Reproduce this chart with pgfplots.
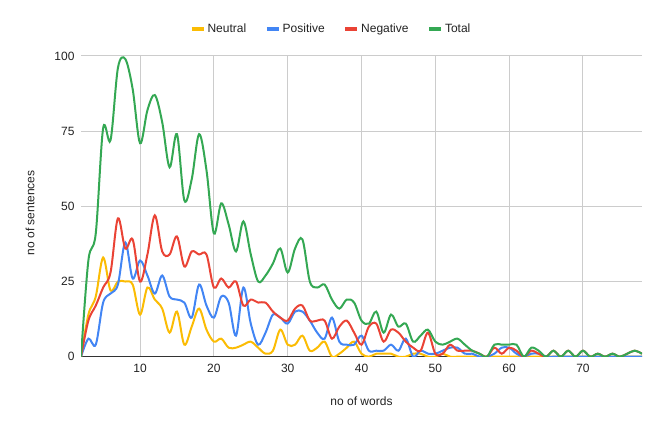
\documentclass[border=0pt]{standalone}
\usepackage{pgfplots}
\pgfplotsset{compat=1.18}
\usepackage{pgfplotstable}
\usepackage{fontspec}
\setmainfont{Liberation Sans}
\definecolor{cN}{HTML}{FBBC04}
\definecolor{cP}{HTML}{4285F4}
\definecolor{cG}{HTML}{EA4335}
\definecolor{cT}{HTML}{34A853}
\definecolor{gridc}{HTML}{CCCCCC}
\definecolor{txt}{HTML}{222222}
\definecolor{axc}{HTML}{333333}

\pgfplotstableread{
x N P G T
2 0 0 0 0
3 14 6 12 32
4 20 4 17 41
5 33 18 23 76
6 22 21 28 72
7 25 24 46 96
8 25 38 36 99
9 24 26 39 89
10 14 32 25 71
11 23 27 34 82
12 19 21 47 87
13 16 27 35 78
14 8 20 34 63
15 15 19 40 74
16 4 18 30 52
17 10 13 35 59
18 16 24 34 74
19 9 17 34 62
20 5 13 23 41
21 6 20 26 51
22 3 18 23 44
23 3 7 25 35
24 4 23 17 45
25 5 11 19 34
26 3 4 18 25
27 1 8 18 27
28 2 14 15 31
29 9 13 13 36
30 4 11 12 28
31 4 15 16 36
32 7 15 17 39
33 2 12 12 25
34 3 8 12 23
35 5 6 12 24
36 0 13 6 19
37 1 5 10 16
38 3 4 12 19
39 5 4 8 18
40 1 7 4 12
41 0 2 10 11
42 1 2 11 15
43 1 2 5 8
44 1 4 9 14
45 0 2 8 10
46 0 6 5 11
47 1 0 3 5
48 1 2 2 7
49 0 1 8 9
50 0 1 1 5
51 1 2 1 4
52 0 3 4 5
53 0 3 2 6
54 0 1 2 4
55 0 1 2 2
56 0 0 1 1
57 0 0 0 0
58 0 1 3 4
59 0 3 1 4
60 0 3 3 4
61 0 1 2 4
62 0 0 0 0
63 0 1 2 3
64 0 1 1 2
65 0 0 0 0
66 0 0 2 2
67 0 0 0 0
68 0 0 2 2
69 0 0 0 0
70 0 0 2 2
71 0 0 0 0
72 0 0 1 1
73 0 0 0 0
74 0 0 1 1
75 0 0 0 0
76 0 0 1 1
77 0 0 2 2
78 0 0 1 1
}\data

\begin{document}
\begin{tikzpicture}
\path[use as bounding box] (-81bp,-74.3bp) rectangle (582bp,356.7bp);
\begin{axis}[
  at={(0,0)}, anchor=south west,
  scale only axis, width=561bp, height=300.7bp,
  xmin=2, xmax=78, ymin=0, ymax=100,
  xtick={10,20,...,70}, ytick={0,25,50,75,100},
  grid=major, major grid style={draw=gridc, line width=1bp},
  axis x line*=bottom, axis y line*=left,
  x axis line style={draw=axc, line width=1bp, -},
  y axis line style={draw=none},
  major tick length=0pt,
  tick label style={font=\fontsize{12bp}{14bp}\selectfont, text=txt},
  /pgf/number format/assume math mode=true,
  xticklabel style={yshift=-4bp},
  yticklabel style={xshift=-3bp},
  xlabel={no of words},
  xlabel style={at={(axis description cs:0.5,-0.147)}, anchor=center, font=\fontsize{12bp}{14bp}\selectfont, text=txt},
  ylabel={no of sentences},
  ylabel style={at={(axis description cs:-0.0909,0.478)}, anchor=center, font=\fontsize{12bp}{14bp}\selectfont, text=txt},
  legend columns=4,
  legend style={at={(axis description cs:0.446,1.09)}, anchor=center, draw=none, fill=none,
    font=\fontsize{12bp}{14bp}\selectfont, text=txt,
    /tikz/every even column/.append style={column sep=17bp}},
  legend image code/.code={\draw[#1, line width=3.5bp] (-3bp,0bp) -- (9bp,0bp);},
  every axis plot/.append style={line width=2bp, smooth, tension=0.55},
]
\addplot[cN] table[x=x,y=N]{\data};
\addlegendentry{Neutral}
\addplot[cP] table[x=x,y=P]{\data};
\addlegendentry{Positive}
\addplot[cG] table[x=x,y=G]{\data};
\addlegendentry{Negative}
\addplot[cT] table[x=x,y=T]{\data};
\addlegendentry{Total}
\end{axis}
\end{tikzpicture}
\end{document}
